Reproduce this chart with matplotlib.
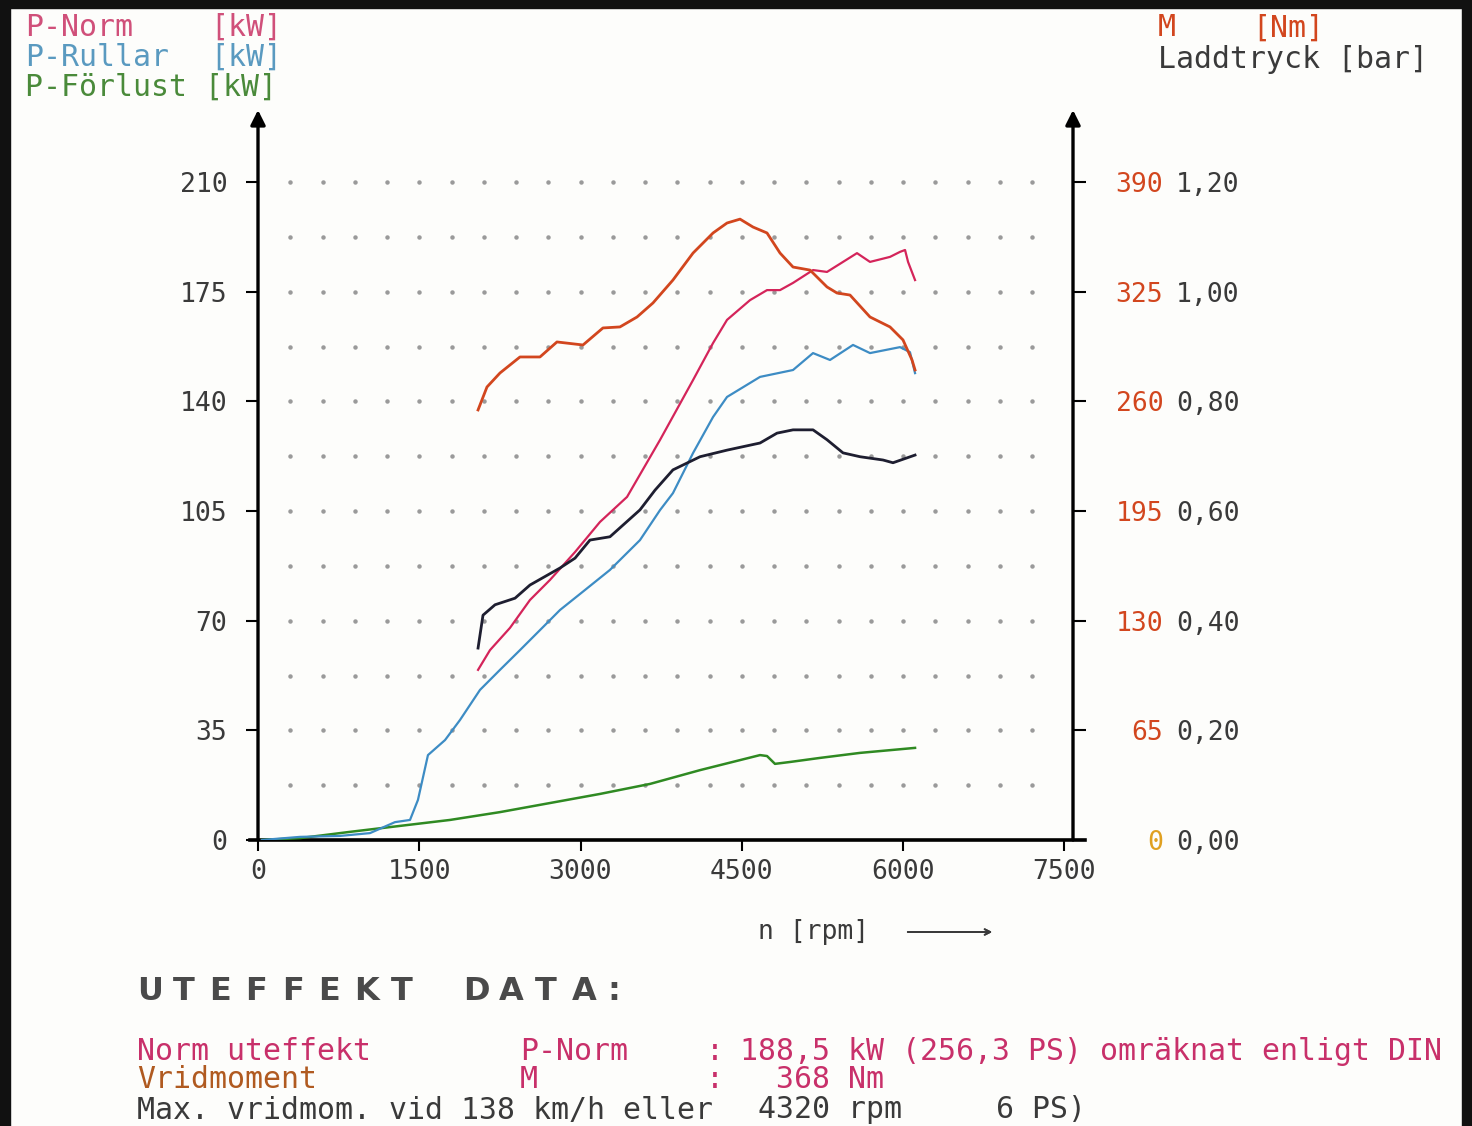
import matplotlib.pyplot as plt
from matplotlib.patches import Rectangle
from matplotlib.lines import Line2D

W, H = 1472, 1126

# ---- data ----
rpm_ticks = [0, 1500, 3000, 4500, 6000, 7500]
kw_ticks = [0, 35, 70, 105, 140, 175, 210]
nm_ticks = [0, 65, 130, 195, 260, 325, 390]
bar_ticks = [0.0, 0.2, 0.4, 0.6, 0.8, 1.0, 1.2]
bar_labels = ["0,00", "0,20", "0,40", "0,60", "0,80", "1,00", "1,20"]

p_norm_rpm = [2047, 2158, 2344, 2530, 2716, 2949, 3181, 3433, 3740, 4047, 4233, 4363,
              4577, 4735, 4856, 4977, 5163, 5293, 5442, 5572, 5693, 5879, 5972, 6019,
              6047, 6112]
p_norm_kw = [54.3, 60.6, 67.7, 76.6, 83.0, 91.9, 101.5, 109.5, 127.7, 146.8, 158.6, 166.0,
             172.3, 175.5, 175.5, 177.8, 181.9, 181.3, 184.5, 187.3, 184.5, 186.1, 187.7,
             188.3, 184.5, 178.7]

p_rullar_rpm = [37, 391, 763, 1042, 1274, 1414, 1488, 1581, 1740, 1879, 2065, 2251, 2437,
                2670, 2809, 3042, 3274, 3553, 3740, 3860, 4047, 4233, 4363, 4670, 4977,
                5163, 5321, 5535, 5693, 5972, 6065, 6112]
p_rullar_kw = [0.0, 1.0, 1.3, 2.2, 5.7, 6.4, 12.8, 27.1, 31.9, 38.3, 47.9, 54.3, 60.6,
               68.6, 73.4, 79.8, 86.2, 95.7, 105.3, 110.7, 123.5, 135.0, 141.4, 147.8,
               150.0, 155.4, 153.2, 158.0, 155.4, 157.3, 155.7, 149.0]

p_forlust_rpm = [37, 391, 856, 1321, 1786, 2251, 2716, 3181, 3647, 4112, 4484, 4670, 4735,
                 4809, 4949, 5228, 5600, 6112]
p_forlust_kw = [0.0, 0.6, 2.6, 4.5, 6.4, 8.9, 11.8, 14.7, 17.9, 22.3, 25.5, 27.1, 26.8,
                24.3, 24.9, 26.2, 27.8, 29.4]

m_rpm = [2047, 2130, 2251, 2437, 2623, 2781, 3023, 3209, 3367, 3526, 3674, 3860, 4047,
         4233, 4363, 4484, 4605, 4735, 4856, 4977, 5135, 5293, 5386, 5507, 5693, 5879,
         6000, 6084, 6112]
m_nm = [254.9, 268.5, 276.8, 286.3, 286.3, 295.2, 293.4, 303.5, 304.1, 310.0, 318.3,
        331.9, 347.9, 359.8, 365.7, 368.0, 363.3, 359.8, 347.9, 339.6, 337.8, 327.8,
        324.2, 323.0, 310.0, 304.1, 296.4, 284.5, 278.6]

boost_rpm = [2047, 2093, 2205, 2391, 2530, 2809, 2949, 3088, 3274, 3553, 3693, 3860,
             4112, 4363, 4670, 4828, 4977, 5163, 5293, 5442, 5600, 5814, 5907, 6112]
boost_bar = [0.350, 0.410, 0.429, 0.441, 0.465, 0.496, 0.514, 0.547, 0.553, 0.602, 0.638,
             0.675, 0.699, 0.711, 0.724, 0.742, 0.748, 0.748, 0.730, 0.706, 0.699, 0.693,
             0.688, 0.702]

# colours
c_norm = "#d4245a"
c_rull = "#3d8cc4"
c_forl = "#2f8a22"
c_m = "#d2461e"
c_boost = "#1e1e30"
c_txt = "#3a3a3a"
c_pink = "#c8306a"

mono = "DejaVu Sans Mono"


def px(x, y):
    return x / W, 1 - y / H


fig = plt.figure(figsize=(W / 100, H / 100), dpi=100, facecolor="#fdfdfb")

# black scan border (left, right, top)
for r in [(0, 0, 10 / W, 1), (1 - 10 / W, 0, 10 / W, 1), (0, 1 - 8 / H, 1, 8 / H)]:
    fig.patches.append(Rectangle(r[:2], r[2], r[3], transform=fig.transFigure,
                                 color="#111111", zorder=10))

ax_l, ax_r, ax_b, ax_t = 258, 1073, 840, 110
ax = fig.add_axes([ax_l / W, 1 - ax_b / H, (ax_r - ax_l) / W, (ax_b - ax_t) / H])
ax.set_facecolor("none")
ax.set_xlim(0, (ax_r - ax_l) / 0.1075)
ax.set_ylim(0, (ax_b - ax_t) / 3.1333)
ymax = ax.get_ylim()[1]

ax2 = ax.twinx()
ax2.set_ylim(0, ymax * 390 / 210)
ax3 = ax.twinx()
ax3.set_ylim(0, ymax * 1.2 / 210)

for a in (ax, ax2, ax3):
    for s in a.spines.values():
        s.set_visible(False)

# dotted grid
for yy in [17.5 * k for k in range(1, 13)]:
    ax.plot(list(range(300, 7300, 300)), [yy] * 24, ls="none", marker="o", ms=2.2,
            color="#9a9a9a", zorder=1)

# axes with arrows
for xf in (0.0, 1.0):
    ax.annotate("", xy=(xf, 1.0), xytext=(xf, 0.0), xycoords="axes fraction",
                arrowprops=dict(arrowstyle="-|>", lw=2.4, color="black",
                                mutation_scale=22, shrinkA=0, shrinkB=0))
ax.add_line(Line2D([(250 - ax_l) / (ax_r - ax_l), (1085 - ax_l) / (ax_r - ax_l)], [0, 0],
                   transform=ax.transAxes, color="black", lw=2.6, clip_on=False))

# curves
ax.plot(p_forlust_rpm, p_forlust_kw, color=c_forl, lw=1.8, zorder=3)
ax.plot(p_rullar_rpm, p_rullar_kw, color=c_rull, lw=1.6, zorder=3)
ax.plot(p_norm_rpm, p_norm_kw, color=c_norm, lw=1.6, zorder=4)
ax2.plot(m_rpm, m_nm, color=c_m, lw=2.0, zorder=4)
ax3.plot(boost_rpm, boost_bar, color=c_boost, lw=2.0, zorder=4)

# ticks
ax.set_xticks(rpm_ticks)
ax.set_xticklabels([str(v) for v in rpm_ticks], family=mono, fontsize=19, color=c_txt)
ax.tick_params(axis="x", length=8, width=1.5, pad=6, direction="out")
ax.set_yticks(kw_ticks)
ax.set_yticklabels([str(v) for v in kw_ticks], family=mono, fontsize=19, color=c_txt)
ax.tick_params(axis="y", length=9, width=1.5, pad=13, direction="out")

ax2.set_yticks(nm_ticks)
ax2.set_yticklabels([str(v) for v in nm_ticks], family=mono, fontsize=19, color=c_m)
ax2.tick_params(axis="y", length=9, width=1.5, pad=56, direction="out")
for t in ax2.get_yticklabels():
    t.set_ha("right")
ax2.get_yticklabels()[0].set_color("#e0a020")

ax3.set_yticks(bar_ticks)
ax3.set_yticklabels(bar_labels, family=mono, fontsize=19, color=c_txt)
ax3.tick_params(axis="y", length=0, pad=74)

# header texts
fs = 21.5
fig.text(*px(25, 27), "P-Norm", family=mono, fontsize=fs, color="#d0507a", va="center")
fig.text(*px(210, 27), "[kW]", family=mono, fontsize=fs, color="#d0507a", va="center")
fig.text(*px(25, 57), "P-Rullar", family=mono, fontsize=fs, color="#5a9ac0", va="center")
fig.text(*px(210, 57), "[kW]", family=mono, fontsize=fs, color="#5a9ac0", va="center")
fig.text(*px(25, 87), "P-Förlust [kW]", family=mono, fontsize=fs, color="#4a8a3a",
         va="center")
fig.text(*px(1158, 28), "M", family=mono, fontsize=fs, color=c_m, va="center")
fig.text(*px(1252, 28), "[Nm]", family=mono, fontsize=fs, color=c_m, va="center")
fig.text(*px(1158, 59), "Laddtryck [bar]", family=mono, fontsize=fs, color=c_txt,
         va="center")

# x-axis title with arrow
fig.text(*px(758, 932), "n [rpm]", family=mono, fontsize=19, color=c_txt, va="center")
fig.add_artist(plt.annotate("", xy=px(995, 932), xytext=px(905, 932),
                            xycoords="figure fraction",
                            arrowprops=dict(arrowstyle="->", lw=1.3, color=c_txt)))

# data block
title = "UTEFFEKT DATA:"
for i, ch in enumerate(title):
    fig.text(*px(137 + i * 36.2, 992), ch, family="DejaVu Sans", fontsize=23,
             color="#4a4a4a", va="center", fontweight="bold")

fs2 = 21.5
rows = [
    (1052, [(137, "Norm uteffekt", c_pink), (520, "P-Norm", c_pink), (706, ":", c_pink),
            (740, "188,5 kW (256,3 PS) omräknat enligt DIN", c_pink)]),
    (1080, [(137, "Vridmoment", "#b05a20"), (520, "M", c_pink), (706, ":", c_pink),
            (776, "368 Nm", c_pink)]),
    (1110, [(137, "Max. vridmom. vid 138 km/h eller", c_txt), (758, "4320 rpm", c_txt),
            (996, "6 PS)", c_txt)]),
]
for yy, parts in rows:
    for xx, s, c in parts:
        fig.text(*px(xx, yy), s, family=mono, fontsize=fs2, color=c, va="center")

fig.savefig("out.png", dpi=100, facecolor=fig.get_facecolor())
